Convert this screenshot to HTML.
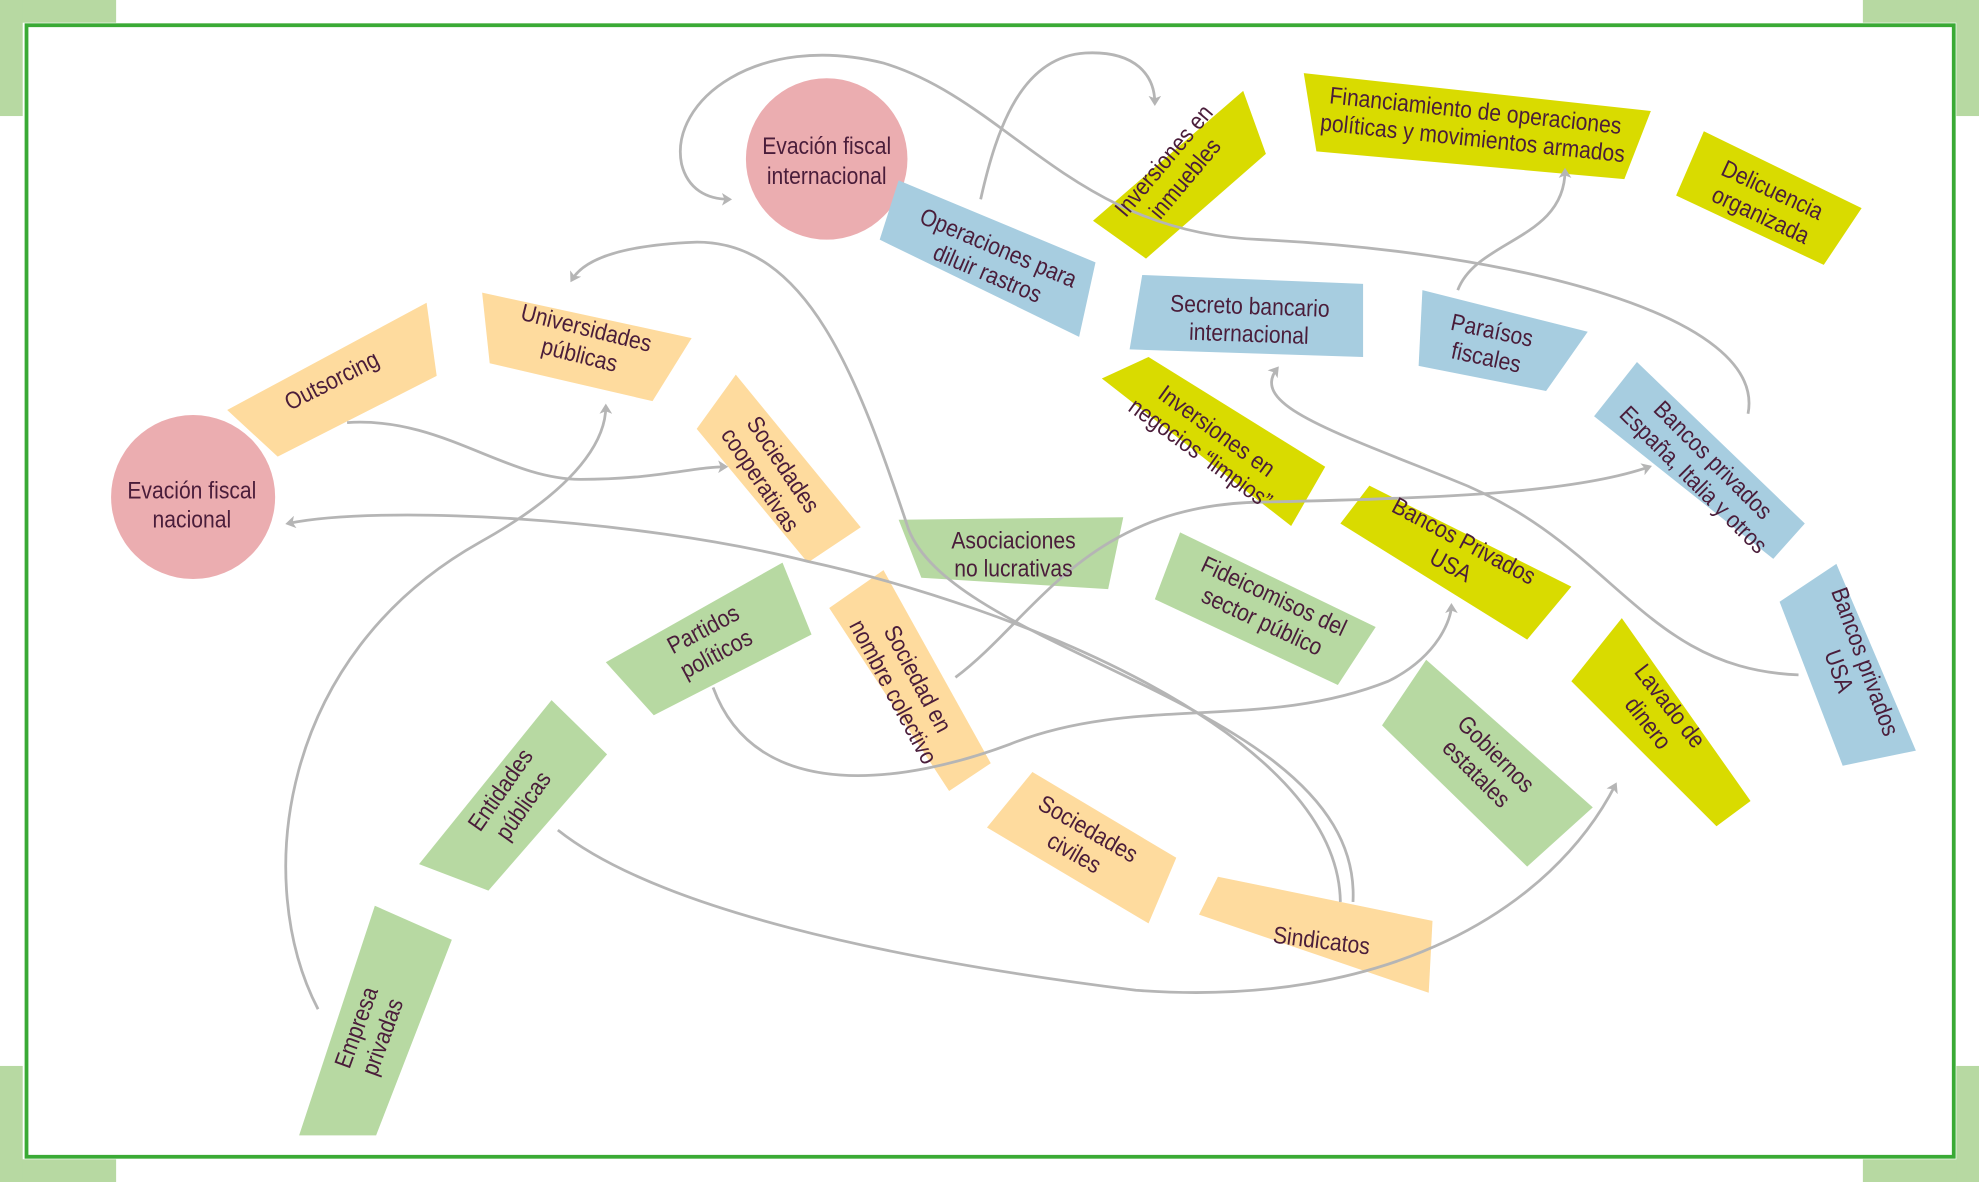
<!DOCTYPE html>
<html><head><meta charset="utf-8"><style>
html,body{margin:0;padding:0;background:#fff;}
svg{display:block}
text{font-family:"Liberation Sans Narrow","Liberation Sans",sans-serif;fill:#4a1d3a;font-size:19px;text-anchor:middle;}
</style></head><body>
<svg width="1979" height="1182" viewBox="0 0 1568 937" preserveAspectRatio="none" xmlns="http://www.w3.org/2000/svg">
<defs><marker id="a" markerWidth="10" markerHeight="10" refX="6" refY="5" orient="auto" markerUnits="userSpaceOnUse"><path d="M0,0 L8,5 L0,10 L2,5 Z" fill="#b5b5b5"/></marker></defs>
<rect width="1568" height="937" fill="#fff"/>
<g fill="#b7d9a2">
<rect x="0" y="0" width="92" height="18"/><rect x="0" y="0" width="18" height="92"/>
<rect x="1476" y="0" width="92" height="18"/><rect x="1550" y="0" width="18" height="92"/>
<rect x="0" y="919" width="92" height="18"/><rect x="0" y="845" width="18" height="92"/>
<rect x="1476" y="919" width="92" height="18"/><rect x="1550" y="845" width="18" height="92"/>
</g>
<rect x="21" y="20" width="1527" height="897" fill="none" stroke="#3aaa35" stroke-width="3"/>

<g>
<circle cx="655" cy="126" r="64" fill="#ebadb0"/>
<circle cx="153" cy="394" r="65" fill="#ebadb0"/>
<polygon fill="#a7cde0" points="712,143 868,208 855,267 697,190"/>
<polygon fill="#d9db00" points="866,175 985,72 1003,122 908,205"/>
<polygon fill="#d9db00" points="1033,58 1308,88 1287,142 1043,120"/>
<polygon fill="#d9db00" points="1350,104 1475,165 1445,210 1328,155"/>
<polygon fill="#a7cde0" points="905,218 1080,225 1080,283 895,277"/>
<polygon fill="#a7cde0" points="1127,230 1258,263 1225,310 1124,290"/>
<polygon fill="#a7cde0" points="1297,287 1430,415 1405,443 1263,330"/>
<polygon fill="#a7cde0" points="1410,477 1455,447 1518,595 1460,607"/>
<polygon fill="#d9db00" points="873,300 910,283 1050,370 1023,417"/>
<polygon fill="#d9db00" points="1062,415 1085,385 1245,465 1210,507"/>
<polygon fill="#d9db00" points="1245,540 1285,490 1387,635 1360,655"/>
<polygon fill="#b7d9a2" points="1095,575 1130,523 1262,640 1210,687"/>
<polygon fill="#b7d9a2" points="915,475 935,422 1090,497 1060,543"/>
<polygon fill="#b7d9a2" points="712,412 890,410 878,467 730,458"/>
<polygon fill="#fedb9e" points="180,325 338,240 346,298 220,362"/>
<polygon fill="#fedb9e" points="382,232 548,268 517,318 388,288"/>
<polygon fill="#fedb9e" points="552,340 583,297 682,418 640,446"/>
<polygon fill="#b7d9a2" points="480,525 620,446 643,503 518,567"/>
<polygon fill="#fedb9e" points="657,482 700,452 785,605 752,627"/>
<polygon fill="#b7d9a2" points="332,685 437,555 481,598 387,706"/>
<polygon fill="#b7d9a2" points="237,900 297,718 358,745 298,900"/>
<polygon fill="#fedb9e" points="782,656 818,612 932,680 910,732"/>
<polygon fill="#fedb9e" points="950,725 965,695 1135,730 1132,787"/>
</g>

<g fill="none" stroke="#b5b5b5" stroke-width="2.2" marker-end="url(#a)">
<path d="M777,158 C790,100 810,45 860,42 C900,40 915,60 915,82"/>
<path d="M1385,328 C1400,250 1200,200 1000,190 C850,185 800,80 700,50 C600,25 530,80 540,130 C545,150 560,158 578,158"/>
<path d="M1155,230 C1170,190 1240,190 1240,135"/>
<path d="M1425,535 C1300,530 1280,430 1150,380 C1050,340 990,320 1012,292"/>
<path d="M1072,715 C1080,560 760,520 720,420 C680,300 640,190 550,192 C480,195 460,210 453,222"/>
<path d="M1062,715 C1060,580 800,480 640,445 C500,410 300,400 228,415"/>
<path d="M275,335 C350,330 400,380 460,380 C520,380 550,370 575,370"/>
<path d="M252,800 C200,700 220,520 380,430 C470,380 480,340 480,322"/>
<path d="M757,537 C820,490 860,400 1000,398 C1150,395 1250,390 1307,370"/>
<path d="M565,545 C600,640 720,620 800,590 C900,550 1000,580 1100,540 C1140,520 1150,490 1150,480"/>
<path d="M442,658 C520,720 700,760 900,785 C1100,800 1230,720 1280,622"/>
</g>

<g transform="translate(655,0) scale(.88,1)"><text y="122" font-size="21">Evación fiscal</text><text y="146" font-size="21">internacional</text></g>
<g transform="translate(152,0) scale(.88,1)"><text y="395" font-size="21">Evación fiscal</text><text y="418" font-size="21">nacional</text></g>
<g transform="translate(787,206) rotate(23) scale(.88,1)"><text y="-4">Operaciones para</text><text y="18">diluir rastros</text></g>
<g transform="translate(930,134) rotate(-50) scale(.88,1)"><text y="-4">Inversiones en</text><text y="18">inmuebles</text></g>
<g transform="translate(1168,98) rotate(6) scale(.88,1)"><text y="-4">Financiamiento de operaciones</text><text y="18">políticas y movimientos armados</text></g>
<g transform="translate(1400,160) rotate(25) scale(.88,1)"><text y="-4">Delicuencia</text><text y="18">organizada</text></g>
<g transform="translate(990,252) rotate(2) scale(.88,1)"><text y="-3">Secreto bancario</text><text y="19">internacional</text></g>
<g transform="translate(1180,272) rotate(12) scale(.88,1)"><text y="-4">Paraísos</text><text y="18">fiscales</text></g>
<g transform="translate(1350,372) rotate(45) scale(.88,1)"><text y="-4">Bancos privados</text><text y="18">España, Italia y otros</text></g>
<g transform="translate(1468,528) rotate(70) scale(.88,1)"><text y="-4">Bancos privados</text><text y="18">USA</text></g>
<g transform="translate(958,350) rotate(36) scale(.88,1)"><text y="-4">Inversiones en</text><text y="18">negocios “limpios”</text></g>
<g transform="translate(1155,438) rotate(28) scale(.88,1)"><text y="-4">Bancos Privados</text><text y="18">USA</text></g>
<g transform="translate(1315,566) rotate(52) scale(.88,1)"><text y="-4">Lavado de</text><text y="18">dinero</text></g>
<g transform="translate(1178,605) rotate(45) scale(.88,1)"><text y="-4">Gobiernos</text><text y="18">estatales</text></g>
<g transform="translate(1005,482) rotate(25) scale(.88,1)"><text y="-4">Fideicomisos del</text><text y="18">sector público</text></g>
<g transform="translate(803,439) scale(.88,1)"><text y="-4">Asociaciones</text><text y="18">no lucrativas</text></g>
<g transform="translate(263,302) rotate(-27) scale(.88,1)"><text y="6">Outsorcing</text></g>
<g transform="translate(462,270) rotate(14) scale(.88,1)"><text y="-4">Universidades</text><text y="18">públicas</text></g>
<g transform="translate(612,374) rotate(56) scale(.88,1)"><text y="-4">Sociedades</text><text y="18">cooperativas</text></g>
<g transform="translate(562,508) rotate(-28) scale(.88,1)"><text y="-4">Partidos</text><text y="18">políticos</text></g>
<g transform="translate(718,543) rotate(62) scale(.88,1)"><text y="-4">Sociedad en</text><text y="18">nombre colectivo</text></g>
<g transform="translate(405,632) rotate(-55) scale(.88,1)"><text y="-4">Entidades</text><text y="18">públicas</text></g>
<g transform="translate(292,818) rotate(-70) scale(.88,1)"><text y="-4">Empresa</text><text y="18">privadas</text></g>
<g transform="translate(857,666) rotate(30) scale(.88,1)"><text y="-4">Sociedades</text><text y="18">civiles</text></g>
<g transform="translate(1047,746) rotate(7) scale(.88,1)"><text y="6">Sindicatos</text></g>
</svg>
</body></html>
